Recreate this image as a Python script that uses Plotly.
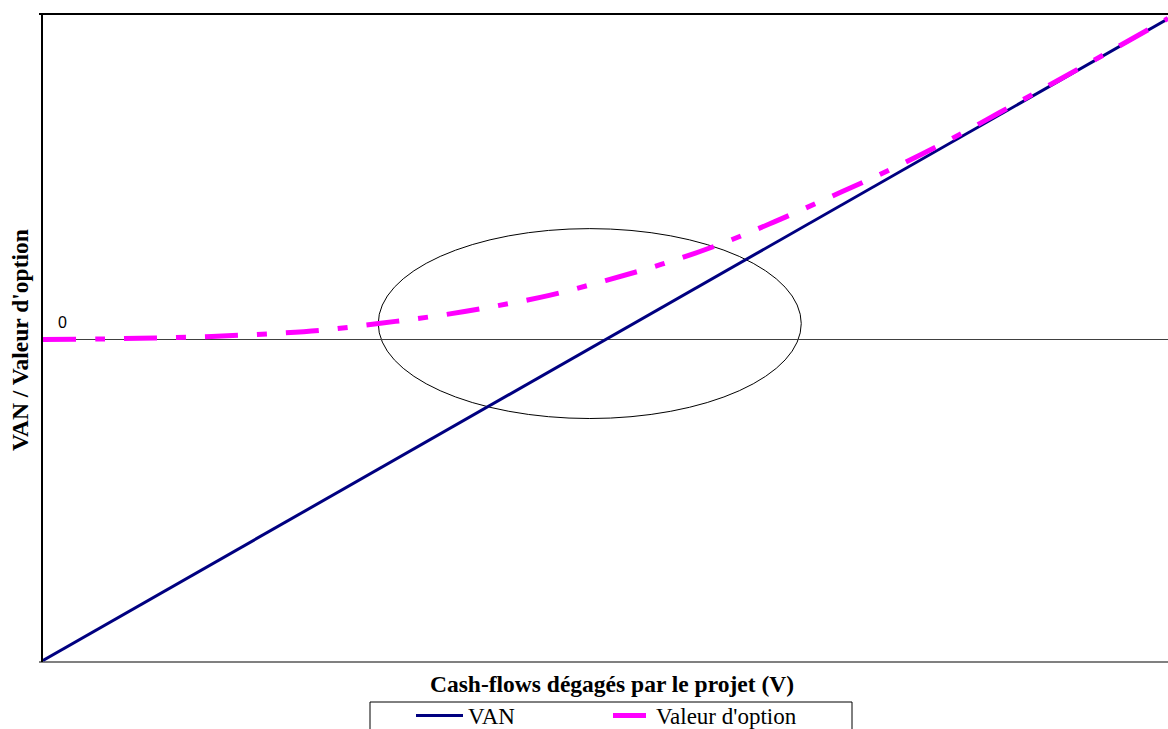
import plotly.graph_objects as go

# Data
cash_flows = [0, 10, 20, 30, 40, 50, 60, 70, 80, 90, 100,
              110, 120, 130, 140, 150, 160, 170, 180, 190, 200]
strike = 100
van = [v - strike for v in cash_flows]
option_value = [0.0, 0.2, 0.5, 1.0, 1.8, 3.0, 5.1, 7.4, 10.3, 13.8, 18.4,
                23.5, 29.5, 36.7, 44.5, 52.5, 61.2, 70.7, 80.4, 90.2, 100.1]
series_names = ["VAN", "Valeur d'option"]
x_title = "Cash-flows dégagés par le projet (V)"
y_title = "VAN / Valeur d'option"
zero_label = "0"
ellipse_x = [59.6, 134.8]
ellipse_y = [-24.6, 34.6]

serif = "Liberation Serif, Times New Roman, serif"

W, H = 1168, 729
L, R, T, B = 43, 0, 14, 67
PW, PH = W - L - R, H - T - B


def px_x(p):
    return (p - L) / PW


def px_y(p):
    return (H - B - p) / PH


fig = go.Figure()
fig.add_trace(go.Scatter(
    x=cash_flows, y=van, mode="lines", name=series_names[0],
    line=dict(color="#000080", width=3), legend="legend",
))
fig.add_trace(go.Scatter(
    x=cash_flows, y=option_value, mode="lines", name=series_names[1],
    line=dict(color="#FF00FF", width=5, dash="33px,19px,10px,19px"),
    line_shape="spline", legend="legend2",
))

fig.add_shape(type="circle", xref="x", yref="y",
              x0=ellipse_x[0], x1=ellipse_x[1], y0=ellipse_y[0], y1=ellipse_y[1],
              line=dict(color="black", width=1), layer="below")
# top border and bottom line
fig.add_shape(type="line", xref="paper", yref="paper", x0=px_x(39), x1=1, y0=1, y1=1,
              line=dict(color="black", width=2))
fig.add_shape(type="line", xref="paper", yref="paper", x0=px_x(39), x1=1, y0=0, y1=0,
              line=dict(color="#808080", width=2), layer="below")
# legend frame
fig.add_shape(type="rect", xref="paper", yref="paper",
              x0=px_x(370), x1=px_x(852), y0=px_y(702), y1=px_y(745),
              line=dict(color="black", width=1), fillcolor="rgba(0,0,0,0)")

fig.add_annotation(text=zero_label, xref="paper", yref="paper", x=px_x(62), y=px_y(322),
                   xanchor="center", yanchor="middle",
                   showarrow=False, font=dict(family="Liberation Sans, Arial", size=16, color="black"))
fig.add_annotation(text="<b>" + x_title + "</b>", xref="paper", yref="paper",
                   x=px_x(612), y=px_y(684), xanchor="center", yanchor="middle",
                   showarrow=False, font=dict(family=serif, size=23.5, color="black"))
fig.add_annotation(text="<b>" + y_title + "</b>", xref="paper", yref="paper",
                   x=px_x(20), y=px_y(340), xanchor="center", yanchor="middle", textangle=-90,
                   showarrow=False, font=dict(family=serif, size=23.5, color="black"))

fig.update_xaxes(range=[0, 200], showgrid=False, zeroline=False, showticklabels=False,
                 ticks="", showline=False, fixedrange=True)
fig.update_yaxes(range=[-100.5, 101.5], showgrid=False, zeroline=True, zerolinecolor="#404040",
                 zerolinewidth=1, showticklabels=False, ticks="", showline=True,
                 linecolor="black", linewidth=1.5, fixedrange=True)

legend_common = dict(orientation="h", xanchor="left", yanchor="top",
                     borderwidth=0, bgcolor="rgba(0,0,0,0)",
                     font=dict(family=serif, size=23, color="black"))

fig.update_layout(
    width=W, height=H,
    margin=dict(l=L, r=R, t=T, b=B, autoexpand=False),
    paper_bgcolor="white", plot_bgcolor="white",
    showlegend=True,
    legend=dict(x=px_x(411), y=px_y(694), itemwidth=47, **legend_common),
    legend2=dict(x=px_x(608), y=px_y(694), itemwidth=38, **legend_common),
)

post = (
    "document.body.style.margin='0';"
)

fig.write_html("out.html", config={"displayModeBar": False}, post_script=post)
